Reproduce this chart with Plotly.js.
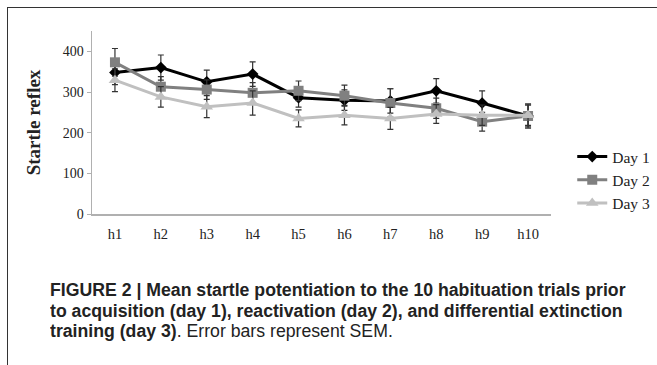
<!DOCTYPE html>
<html>
<head>
<meta charset="utf-8">
<script src="https://cdn.plot.ly/plotly-3.0.1.min.js"></script>
<style>
html,body{margin:0;padding:0;background:#fff;width:657px;height:365px;overflow:hidden;}
#frame{position:absolute;left:7px;top:7px;width:700px;height:400px;border-left:1.5px solid #333;border-top:1.5px solid #333;}
#chart{position:absolute;left:0;top:0;width:657px;height:365px;}
#caption{position:absolute;left:50px;top:280px;white-space:nowrap;font-family:"Liberation Sans",Arial,sans-serif;font-size:17.5px;line-height:20.5px;color:#222;transform:scaleX(1.01);transform-origin:left top;}
#caption b{font-weight:bold;}
</style>
</head>
<body>
<div id="frame"></div>
<div id="chart"></div>
<div id="caption"><b>FIGURE 2 | Mean startle potentiation to the 10 habituation trials prior</b><br><b>to acquisition (day 1), reactivation (day 2), and differential extinction</b><br><b>training (day 3)</b>. Error bars represent SEM.</div>
<script>
var trials = ["h1","h2","h3","h4","h5","h6","h7","h8","h9","h10"];
var day1 = [348, 360, 325, 344, 286, 280, 278, 303, 273, 241];
var day1Sem = [30, 31, 29, 30, 23, 25, 30, 30, 30, 27];
var day2 = [373, 313, 306, 298, 303, 291, 273, 260, 227, 241];
var day2Sem = [34, 25, 24, 25, 24, 26, 35, 25, 23, 30];
var day3 = [329, 288, 264, 273, 235, 243, 235, 246, 243, 243];
var day3Sem = [28, 25, 27, 30, 21, 24, 27, 23, 25, 25];
var seriesNames = ["Day 1","Day 2","Day 3"];

function trace(name, y, sem, color, symbol, size){
  return {
    x: trials, y: y, name: name, type: "scatter", mode: "lines+markers",
    line: {color: color, width: 3},
    marker: {color: color, symbol: symbol, size: size},
    error_y: {type: "data", array: sem, visible: true, color: "#333", thickness: 1.2, width: 3}
  };
}
var data = [
  trace(seriesNames[0], day1, day1Sem, "#000000", "diamond", 9),
  trace(seriesNames[1], day2, day2Sem, "#808080", "square", 10),
  trace(seriesNames[2], day3, day3Sem, "#c0c0c0", "triangle-up", 11)
];
var layout = {
  width: 657, height: 365,
  margin: {l: 92, r: 106, t: 31, b: 151, pad: 0},
  paper_bgcolor: "rgba(0,0,0,0)", plot_bgcolor: "rgba(0,0,0,0)",
  font: {family: "Liberation Serif, Times New Roman, serif", size: 14, color: "#222"},
  showlegend: true,
  legend: {xref: "container", yref: "container", x: 0.871, y: 1 - 180/365, xanchor: "left", yanchor: "middle", font: {size: 15.5, family: "Liberation Serif, serif", color: "#222"}, tracegroupgap: 0, itemwidth: 30, bgcolor: "rgba(0,0,0,0)"},
  xaxis: {type: "category", showline: true, linecolor: "#b0b0b0", linewidth: 1.5, showgrid: false, zeroline: false, ticks: "", ticklabelstandoff: 6, tickfont: {size: 14.5}, range: [-0.5, 9.5], automargin: false},
  yaxis: {range: [0, 450], showline: true, linecolor: "#b0b0b0", linewidth: 1.5, showgrid: false, zeroline: false, ticks: "outside", ticklen: 4, tickcolor: "#b0b0b0", tickvals: [0,100,200,300,400], tickfont: {size: 14}, automargin: false,
    title: {text: "<b>Startle reflex</b>", font: {size: 19, family: "Liberation Serif, serif", color: "#222"}, standoff: 17}}
};
Plotly.newPlot("chart", data, layout, {staticPlot: true, displayModeBar: false});
</script>
</body>
</html>
